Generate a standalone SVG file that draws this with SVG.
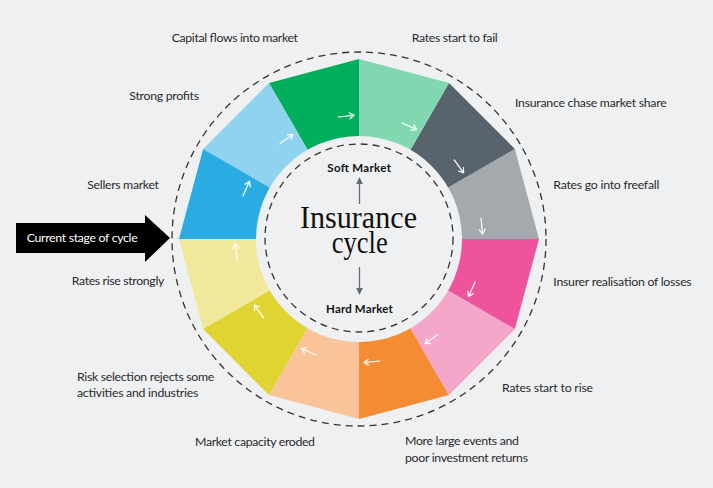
<svg xmlns="http://www.w3.org/2000/svg" width="713" height="488" viewBox="0 0 713 488">
<defs>
<style>
.lbl{font-family:Lato,"Liberation Sans",sans-serif;font-size:12.3px;fill:#2a2a2a}
.mk{font-family:Lato,"Liberation Sans",sans-serif;font-size:11.5px;font-weight:bold;fill:#111}
.big{font-family:"Liberation Serif","DejaVu Serif",serif;font-size:31px;fill:#111}
.dash{fill:none;stroke:#333;stroke-width:1.3;stroke-dasharray:7 5}
.wa{fill:none;stroke:#fff;stroke-width:1.2;stroke-linecap:round;stroke-linejoin:round}
.ga{fill:none;stroke:#666b70;stroke-width:1.3}
</style>
<g id="wArrow"><path class="wa" d="M351 115.5 L367 115.5 M362.5 112.5 L367 115.5 L362.5 118.5"/></g>
<marker id="gh" viewBox="0 0 10 10" refX="9" refY="5" markerWidth="7" markerHeight="7" orient="auto" markerUnits="userSpaceOnUse"><path d="M0 0 L10 5 L0 10 Z" fill="#666b70"/></marker>
</defs>
<rect width="713" height="488" fill="#eff0f2"/>

<g id="ring">
<g id="seg-freefall"><path d="M359 239 L539 239 L514.885 149 Z" fill="#a3a9ac"/></g>
<g id="seg-chase"><path d="M359 239 L514.885 149 L449 83.115 Z" fill="#58636b"/></g>
<g id="seg-fail"><path d="M359 239 L449 83.115 L359 59 Z" fill="#81d7b0"/></g>
<g id="seg-capital"><path d="M359 239 L359 59 L269 83.115 Z" fill="#00ae5b"/></g>
<g id="seg-profits"><path d="M359 239 L269 83.115 L203.115 149 Z" fill="#8fd3f0"/></g>
<g id="seg-sellers"><path d="M359 239 L203.115 149 L179 239 Z" fill="#2aabe2"/></g>
<g id="seg-risestrongly"><path d="M359 239 L179 239 L203.115 329 Z" fill="#f0e89b"/></g>
<g id="seg-risk"><path d="M359 239 L203.115 329 L269 394.885 Z" fill="#e0d433"/></g>
<g id="seg-capacity"><path d="M359 239 L269 394.885 L359 419 Z" fill="#f9c499"/></g>
<g id="seg-events"><path d="M359 239 L359 419 L449 394.885 Z" fill="#f58b33"/></g>
<g id="seg-rise"><path d="M359 239 L449 394.885 L514.885 329 Z" fill="#f5a7ca"/></g>
<g id="seg-losses"><path d="M359 239 L514.885 329 L539 239 Z" fill="#ee549b"/></g>
<circle cx="359" cy="239" r="103" fill="#eff0f2"/>
</g>

<g id="ring-arrows">
<use href="#wArrow" transform="rotate(84 359 239)"/>
<use href="#wArrow" transform="rotate(54 359 239)"/>
<use href="#wArrow" transform="rotate(24 359 239)"/>
<use href="#wArrow" transform="rotate(-6 359 239)"/>
<use href="#wArrow" transform="rotate(-36 359 239)"/>
<use href="#wArrow" transform="rotate(-66 359 239)"/>
<use href="#wArrow" transform="rotate(-96 359 239)"/>
<use href="#wArrow" transform="rotate(-126 359 239)"/>
<use href="#wArrow" transform="rotate(-156 359 239)"/>
<use href="#wArrow" transform="rotate(-186 359 239)"/>
<use href="#wArrow" transform="rotate(-216 359 239)"/>
<use href="#wArrow" transform="rotate(-246 359 239)"/>
</g>

<circle class="dash" cx="359" cy="239" r="187"/>
<circle class="dash" cx="359" cy="238" r="94"/>

<g id="center">
<text class="mk" x="327.3" y="171.7" textLength="63.7">Soft Market</text>
<text class="big" x="300" y="227.7" textLength="117" lengthAdjust="spacingAndGlyphs">Insurance</text>
<text class="big" x="331.7" y="253" textLength="56" lengthAdjust="spacingAndGlyphs">cycle</text>
<text class="mk" x="326" y="313.3" textLength="66.7">Hard Market</text>
</g>

<g id="connectors">
<line class="ga" x1="359.5" y1="204" x2="359.5" y2="178" marker-end="url(#gh)"/>
<line class="ga" x1="359.5" y1="267" x2="359.5" y2="294" marker-end="url(#gh)"/>
</g>

<g id="current-stage">
<path d="M16 223 L145 223 L145 215 L170 238 L145 262 L145 253 L16 253 Z" fill="#000"/>
<text class="lbl" x="26.7" y="241.7" textLength="111" style="fill:#fff">Current stage of cycle</text>
</g>

<g id="labels">
<text class="lbl" x="171.7" y="41.7" textLength="126.3">Capital flows into market</text>
<text class="lbl" x="411.7" y="42.3" textLength="86">Rates start to fail</text>
<text class="lbl" x="129.3" y="100" textLength="69.7">Strong profits</text>
<text class="lbl" x="515" y="106.5" textLength="151.7">Insurance chase market share</text>
<text class="lbl" x="87.3" y="188.7" textLength="71.7">Sellers market</text>
<text class="lbl" x="553.3" y="189.3" textLength="106">Rates go into freefall</text>
<text class="lbl" x="71.7" y="285" textLength="92.6">Rates rise strongly</text>
<text class="lbl" x="553.3" y="285.7" textLength="138.4">Insurer realisation of losses</text>
<text class="lbl" x="77" y="381" textLength="137.3">Risk selection rejects some</text>
<text class="lbl" x="77" y="396.5" textLength="121.3">activities and industries</text>
<text class="lbl" x="502" y="391.7" textLength="91">Rates start to rise</text>
<text class="lbl" x="195" y="446" textLength="120">Market capacity eroded</text>
<text class="lbl" x="405" y="445" textLength="114">More large events and</text>
<text class="lbl" x="405" y="462" textLength="123">poor investment returns</text>
</g>
</svg>
